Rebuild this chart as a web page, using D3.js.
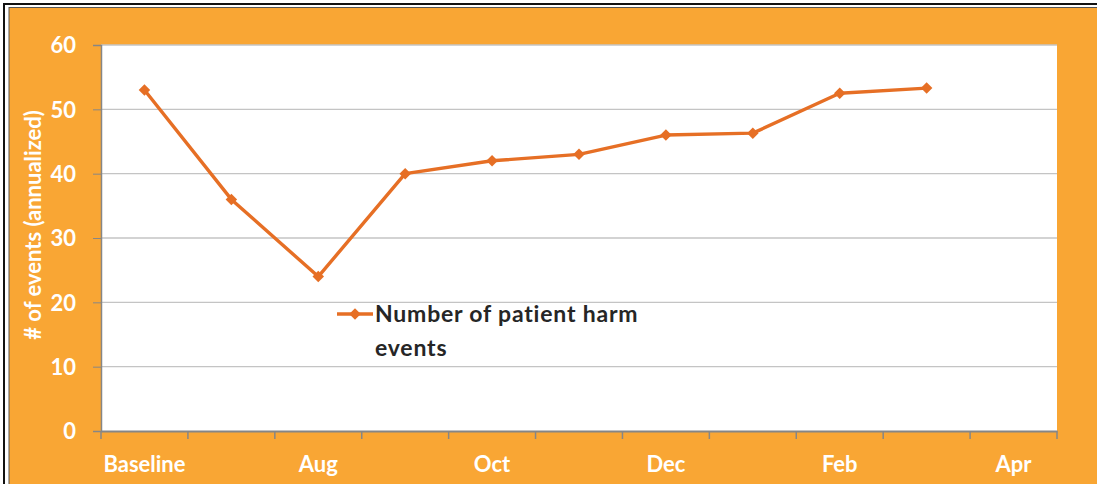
<!DOCTYPE html>
<html lang="en">
<head>
<meta charset="UTF-8">
<title>Patient harm events</title>
<script src="https://cdnjs.cloudflare.com/ajax/libs/d3/7.8.5/d3.min.js"></script>
<style>
  body { margin: 0; background: #fff; font-family: Lato, "Open Sans", sans-serif; }
  svg { display: block; }
  .axis text { fill: #fff; font-weight: bold; font-size: 22px; font-family: Lato, "Open Sans", sans-serif; }
  .axis path, .axis line { stroke: #868686; }
</style>
</head>
<body>
<div id="chart"></div>
<script>
// Data
const categories = ["Baseline", "Jul", "Aug", "Sep", "Oct", "Nov", "Dec", "Jan", "Feb", "Mar", "Apr"];
const shownLabels = ["Baseline", "Aug", "Oct", "Dec", "Feb", "Apr"];
const harmEvents = [53, 36, 24, 40, 42, 43, 46, 46.3, 52.5, 53.3];
const yTicks = [0, 10, 20, 30, 40, 50, 60];
const seriesName = "Number of patient harm events";

const width = 1097, height = 484;
const plot = { left: 101, right: 1057, top: 45, bottom: 431 };
const lineColor = "#E66F25";

const svg = d3.select("#chart").append("svg")
    .attr("width", width)
    .attr("height", height);

// Frame and background
svg.append("rect").attr("x", 0).attr("y", 0).attr("width", width).attr("height", height).attr("fill", "#fff");
svg.append("rect").attr("x", 4).attr("y", 4).attr("width", width).attr("height", height)
    .attr("fill", "none").attr("stroke", "#111").attr("stroke-width", 2);
svg.append("rect").attr("x", 9).attr("y", 7.5).attr("width", width).attr("height", height)
    .attr("fill", "#F9A634").attr("stroke", "#555").attr("stroke-width", 1);

svg.append("rect")
    .attr("x", plot.left).attr("y", plot.top)
    .attr("width", plot.right - plot.left).attr("height", plot.bottom - plot.top)
    .attr("fill", "#fff");

// Scales
const x = d3.scaleBand().domain(categories).range([plot.left, plot.right]);
const y = d3.scaleLinear().domain([0, 60]).range([plot.bottom, plot.top]);

// Gridlines
svg.append("g")
    .selectAll("line")
    .data(yTicks.filter(d => d > 0))
    .join("line")
    .attr("x1", plot.left).attr("x2", plot.right)
    .attr("y1", d => y(d)).attr("y2", d => y(d))
    .attr("stroke", "#C4C4C4").attr("stroke-width", 1.3);

// Y axis
const yAxis = svg.append("g")
    .attr("class", "axis")
    .attr("transform", `translate(${plot.left},0)`)
    .call(d3.axisLeft(y).tickValues(yTicks).tickSize(8).tickPadding(17));
yAxis.select(".domain").attr("stroke-width", 1.5);
yAxis.selectAll("text").attr("dy", "0.36em");

// X axis: ticks sit on the category boundaries
const xAxis = svg.append("g")
    .attr("class", "axis")
    .attr("transform", `translate(0,${plot.bottom})`)
    .call(d3.axisBottom(x).tickSize(0).tickPadding(25)
        .tickFormat(d => shownLabels.includes(d) ? d : ""));
xAxis.select(".domain").attr("stroke-width", 2);
xAxis.selectAll(".boundary")
    .data(d3.range(categories.length + 1))
    .join("line")
    .attr("class", "boundary")
    .attr("x1", i => plot.left + i * x.bandwidth())
    .attr("x2", i => plot.left + i * x.bandwidth())
    .attr("y1", 0).attr("y2", 8)
    .attr("stroke", "#868686").attr("stroke-width", 1.5);

// Y axis title
svg.append("text")
    .attr("transform", `translate(41,225) rotate(-90)`)
    .attr("text-anchor", "middle")
    .attr("fill", "#fff")
    .attr("font-weight", "bold")
    .attr("font-size", 22)
    .text("# of events (annualized)");

// Line
const cx = (d, i) => x(categories[i]) + x.bandwidth() / 2;
const line = d3.line().x(cx).y(d => y(d));

svg.append("path")
    .datum(harmEvents)
    .attr("d", line)
    .attr("fill", "none")
    .attr("stroke", lineColor)
    .attr("stroke-width", 3.4)
    .attr("stroke-linejoin", "round");

// square rotated 45deg -> even diamond like Excel's marker
const diamond = d3.symbol().type(d3.symbolSquare).size(66);
svg.append("g")
    .selectAll("path")
    .data(harmEvents)
    .join("path")
    .attr("d", diamond)
    .attr("transform", (d, i) => `translate(${cx(d, i)},${y(d)}) rotate(45)`)
    .attr("fill", lineColor);

// Legend
const legend = svg.append("g").attr("transform", "translate(337,314)");
legend.append("line")
    .attr("x1", 0).attr("x2", 36)
    .attr("stroke", lineColor).attr("stroke-width", 3.4);
legend.append("path")
    .attr("d", diamond)
    .attr("transform", "translate(18,0) rotate(45)")
    .attr("fill", lineColor);
const legText = legend.append("text")
    .attr("x", 38).attr("y", 8)
    .attr("fill", "#262626")
    .attr("font-weight", "bold")
    .attr("font-size", 23)
    .attr("letter-spacing", 0.8);
legText.append("tspan").attr("x", 38).text("Number of patient harm");
legText.append("tspan").attr("x", 38).attr("dy", 34).text("events");
</script>
</body>
</html>
